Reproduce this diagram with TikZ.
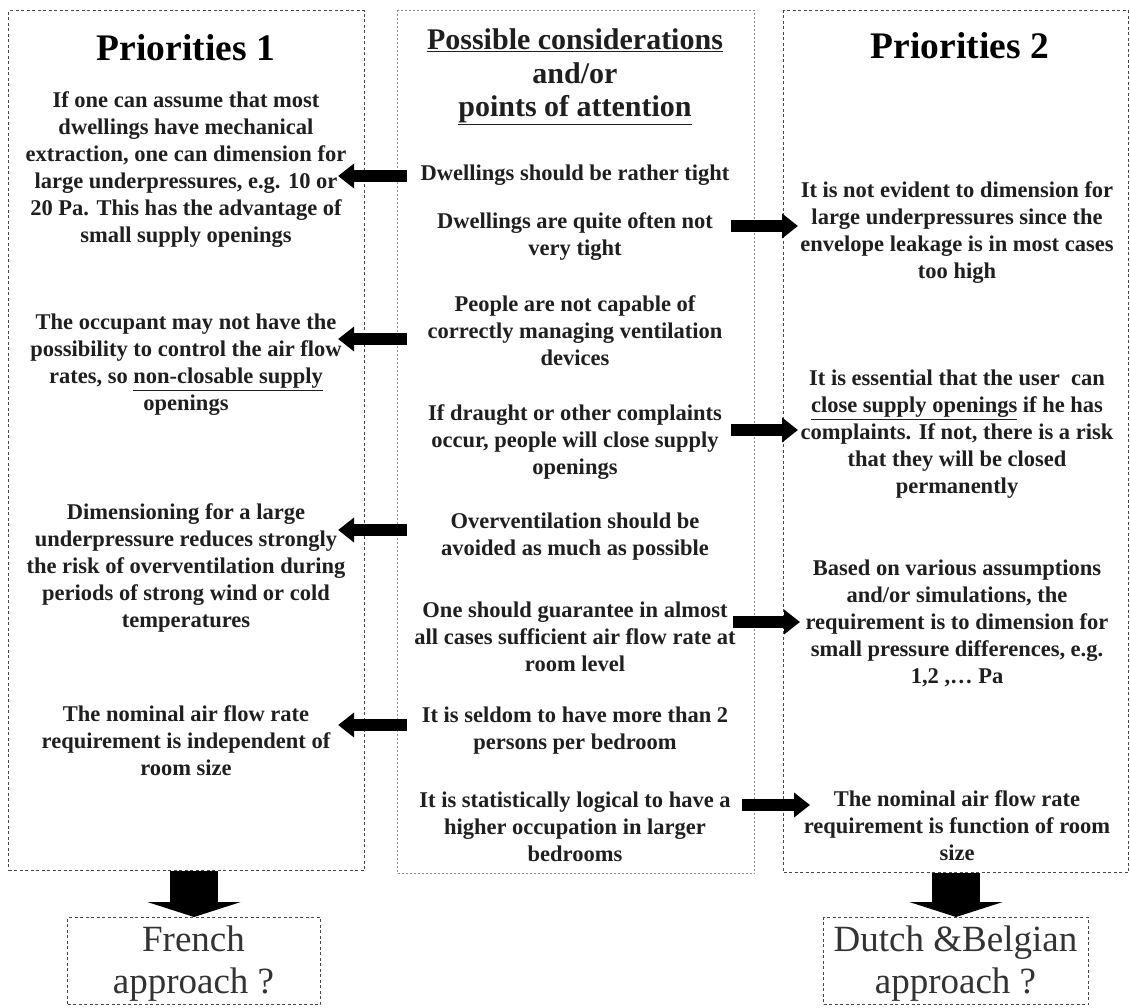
\documentclass[tikz,border=0pt]{standalone}
\usepackage{fontspec}
\setmainfont{Liberation Serif}
\usetikzlibrary{arrows.meta}

\begin{document}
\begin{tikzpicture}[x=1pt,y=-1pt,
  frame/.style={draw=black!72, line width=1.1pt, dash pattern=on 3pt off 2.5pt,
    inner sep=0pt, anchor=north west},
  midframe/.style={draw=black!45, line width=1.1pt, dash pattern=on 2pt off 2pt,
    inner sep=0pt, anchor=north west},
  item/.style={align=center, inner sep=0pt, text=black!88,
    font=\fontsize{22.5}{27}\selectfont\bfseries},
  title/.style={inner sep=0pt, font=\fontsize{37.5}{40}\selectfont\bfseries},
  heading/.style={align=center, inner sep=0pt, text=black!88,
    font=\fontsize{30}{33.5}\selectfont\bfseries},
  approach/.style={align=center, inner sep=0pt, text=black!80,
    font=\fontsize{37}{42}\selectfont},
  sidearrow/.style={line width=12pt, -{Triangle[width=24pt,length=16pt]}},
  downarrow/.style={line width=48pt, -{Triangle[width=93pt,length=15pt]}},
]
\useasboundingbox (0,0) rectangle (1130,1007);

% column frames
\node[frame, minimum width=356pt, minimum height=860pt] (leftbox) at (8,10) {};
\node[midframe, minimum width=357pt, minimum height=863pt] (midbox) at (397,10) {};
\node[frame, minimum width=345pt, minimum height=862pt] (rightbox) at (783,10) {};

% outcome boxes and their labels
\node[frame, minimum width=253pt, minimum height=87pt] (french) at (67,917) {};
\node[frame, minimum width=265pt, minimum height=87pt] (dutch) at (823,917) {};
\node[approach] (frenchtxt) at (193.5,964) {French\\approach ?};
\node[approach] (dutchtxt) at (955.5,964) {Dutch \&Belgian\\approach ?};

% headings
\node[title] (t1) at (186,48) {Priorities 1};
\node[title] (t2) at (960,46) {Priorities 2};
\node[heading] (th) at (575,77)
  {\underline{Possible considerations}\\and/or\\\underline{points of attention}};

% left column
\node[item] (l1) at (186,170) {If one can assume that most\\dwellings have mechanical\\extraction, one can dimension for\\large underpressures, e.g. 10 or\\20 Pa. This has the advantage of\\small supply openings};
\node[item] (l2) at (186,365) {The occupant may not have the\\possibility to control the air flow\\rates, so \underline{non-closable supply}\\openings};
\node[item] (l3) at (186,568) {Dimensioning for a large\\underpressure reduces strongly\\the risk of overventilation during\\periods of strong wind or cold\\temperatures};
\node[item] (l4) at (186,741) {The nominal air flow rate\\requirement is independent of\\room size};

% middle column
\node[item] (m1) at (575,175) {Dwellings should be rather tight};
\node[item] (m2) at (575,237) {Dwellings are quite often not\\very tight};
\node[item] (m3) at (575,331) {People are not capable of\\correctly managing ventilation\\devices};
\node[item] (m4) at (575,442) {If draught or other complaints\\occur, people will close supply\\openings};
\node[item] (m5) at (575,537) {Overventilation should be\\avoided as much as possible};
\node[item] (m6) at (575,637) {One should guarantee in almost\\all cases sufficient air flow rate at\\room level};
\node[item] (m7) at (575,731) {It is seldom to have more than 2\\persons per bedroom};
\node[item] (m8) at (575,827) {It is statistically logical to have a\\higher occupation in larger\\bedrooms};

% right column
\node[item] (r1) at (957,233) {It is not evident to dimension for\\large underpressures since the\\envelope leakage is in most cases\\too high};
\node[item] (r2) at (957,434) {It is essential that the user\ \ can\\\underline{close supply openings} if he has\\complaints. If not, there is a risk\\that they will be closed\\permanently};
\node[item] (r3) at (957,623) {Based on various assumptions\\and/or simulations, the\\requirement is to dimension for\\small pressure differences, e.g.\\1,2 ,… Pa};
\node[item] (r4) at (957,826) {The nominal air flow rate\\requirement is function of room\\size};

% arrow start points inside the middle column
\coordinate (a1) at (407,176);
\coordinate (a2) at (407,339);
\coordinate (a3) at (407,530);
\coordinate (a4) at (407,725);
\coordinate (b1) at (731,226);
\coordinate (b2) at (731,430);
\coordinate (b3) at (733,622);
\coordinate (b4) at (742,805);

% arrows towards Priorities 1 (tips reach into the left column)
\draw[sidearrow, shorten >=-27pt] (a1) -- (a1 -| leftbox.east);
\draw[sidearrow, shorten >=-27pt] (a2) -- (a2 -| leftbox.east);
\draw[sidearrow, shorten >=-27pt] (a3) -- (a3 -| leftbox.east);
\draw[sidearrow, shorten >=-27pt] (a4) -- (a4 -| leftbox.east);

% arrows towards Priorities 2
\draw[sidearrow, shorten >=-15pt] (b1) -- (b1 -| rightbox.west);
\draw[sidearrow, shorten >=-15pt] (b2) -- (b2 -| rightbox.west);
\draw[sidearrow, shorten >=-17pt] (b3) -- (b3 -| rightbox.west);
\draw[sidearrow, shorten >=-27pt] (b4) -- (b4 -| rightbox.west);

% conclusions
\draw[downarrow] (french.north |- leftbox.south) -- (french.north);
\draw[downarrow] (dutch.north |- rightbox.south) -- (dutch.north);
\end{tikzpicture}
\end{document}
